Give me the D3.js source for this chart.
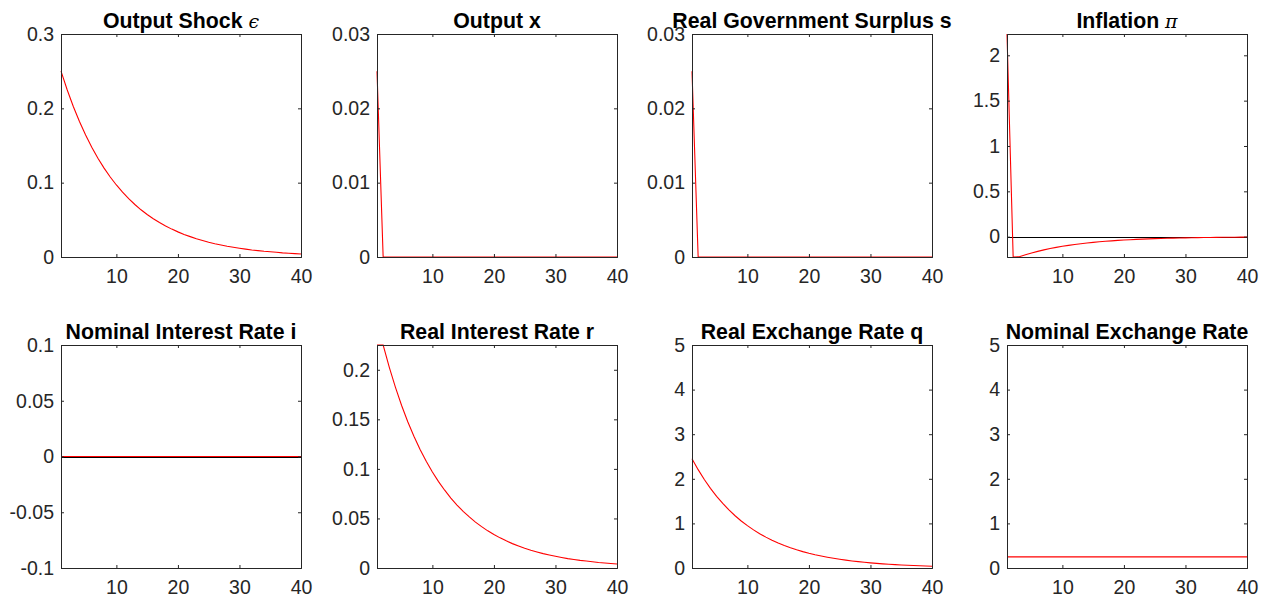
<!DOCTYPE html>
<html>
<head>
<meta charset="utf-8">
<script src="https://cdn.jsdelivr.net/npm/d3@7"></script>
<style>
body { margin: 0; background: #fff; }
text { font-family: "Liberation Sans", Arial, Helvetica, sans-serif; }
</style>
</head>
<body>
<div id="chart-area"></div>
<script>
// Impulse responses, 40 periods, 2 x 4 grid of small plots.

var periods = d3.range(1, 41);
var xTicks = [10, 20, 30, 40];

var shock = [0.25, 0.225, 0.2025, 0.1823, 0.164, 0.1476, 0.1329, 0.1196, 0.1076, 0.0969,
    0.0872, 0.0785, 0.0706, 0.0635, 0.0572, 0.0515, 0.0463, 0.0417, 0.0375, 0.0338,
    0.0304, 0.0274, 0.0246, 0.0222, 0.0199, 0.0179, 0.0162, 0.0145, 0.0131, 0.0118,
    0.0106, 0.0095, 0.0086, 0.0077, 0.007, 0.0063, 0.0056, 0.0051, 0.0046, 0.0041];

var outputX = [0.025, 0, 0, 0, 0, 0, 0, 0, 0, 0,
    0, 0, 0, 0, 0, 0, 0, 0, 0, 0,
    0, 0, 0, 0, 0, 0, 0, 0, 0, 0,
    0, 0, 0, 0, 0, 0, 0, 0, 0, 0];

var surplus = [0.025, 0, 0, 0, 0, 0, 0, 0, 0, 0,
    0, 0, 0, 0, 0, 0, 0, 0, 0, 0,
    0, 0, 0, 0, 0, 0, 0, 0, 0, 0,
    0, 0, 0, 0, 0, 0, 0, 0, 0, 0];

var inflation = [2.235, -0.224, -0.222, -0.1998, -0.1798, -0.1618, -0.1457, -0.1311, -0.118, -0.1062,
    -0.0956, -0.086, -0.0774, -0.0697, -0.0627, -0.0564, -0.0508, -0.0457, -0.0411, -0.037,
    -0.0333, -0.03, -0.027, -0.0243, -0.0219, -0.0197, -0.0177, -0.0159, -0.0143, -0.0129,
    -0.0116, -0.0105, -0.0094, -0.0085, -0.0076, -0.0069, -0.0062, -0.0056, -0.005, -0.0045];

var nominalRate = [0, 0, 0, 0, 0, 0, 0, 0, 0, 0,
    0, 0, 0, 0, 0, 0, 0, 0, 0, 0,
    0, 0, 0, 0, 0, 0, 0, 0, 0, 0,
    0, 0, 0, 0, 0, 0, 0, 0, 0, 0];

var realRate = [0.225, 0.225, 0.2025, 0.1823, 0.164, 0.1476, 0.1329, 0.1196, 0.1076, 0.0969,
    0.0872, 0.0785, 0.0706, 0.0635, 0.0572, 0.0515, 0.0463, 0.0417, 0.0375, 0.0338,
    0.0304, 0.0274, 0.0246, 0.0222, 0.0199, 0.0179, 0.0162, 0.0145, 0.0131, 0.0118,
    0.0106, 0.0095, 0.0086, 0.0077, 0.007, 0.0063, 0.0056, 0.0051, 0.0046, 0.0041];

var realFx = [2.45, 2.205, 1.9845, 1.786, 1.6074, 1.4467, 1.302, 1.1718, 1.0546, 0.9492,
    0.8543, 0.7688, 0.692, 0.6228, 0.5605, 0.5044, 0.454, 0.4086, 0.3677, 0.331,
    0.2979, 0.2681, 0.2413, 0.2171, 0.1954, 0.1759, 0.1583, 0.1425, 0.1282, 0.1154,
    0.1039, 0.0935, 0.0841, 0.0757, 0.0681, 0.0613, 0.0552, 0.0497, 0.0447, 0.0402];

var nominalFx = [0.25, 0.25, 0.25, 0.25, 0.25, 0.25, 0.25, 0.25, 0.25, 0.25,
    0.25, 0.25, 0.25, 0.25, 0.25, 0.25, 0.25, 0.25, 0.25, 0.25,
    0.25, 0.25, 0.25, 0.25, 0.25, 0.25, 0.25, 0.25, 0.25, 0.25,
    0.25, 0.25, 0.25, 0.25, 0.25, 0.25, 0.25, 0.25, 0.25, 0.25];

var titles = ["Output Shock ", "Output x", "Real Government Surplus s", "Inflation ",
    "Nominal Interest Rate i", "Real Interest Rate r", "Real Exchange Rate q", "Nominal Exchange Rate"];
var greek = ["\u03F5", "", "", "\u03C0", "", "", "", ""];

var yDomains = [[0, 0.3], [0, 0.03], [0, 0.03], [-0.224, 2.235],
    [-0.1, 0.1], [0, 0.225], [0, 5], [0, 5]];
var yTicks = [[0, 0.1, 0.2, 0.3], [0, 0.01, 0.02, 0.03], [0, 0.01, 0.02, 0.03], [0, 0.5, 1, 1.5, 2],
    [-0.1, -0.05, 0, 0.05, 0.1], [0, 0.05, 0.1, 0.15, 0.2], [0, 1, 2, 3, 4, 5], [0, 1, 2, 3, 4, 5]];

var series = [shock, outputX, surplus, inflation, nominalRate, realRate, realFx, nominalFx];

// layout of the axes boxes
var colLeft = [61, 377, 692, 1007],
    rowTop = [34, 345];
var width = 240, height = 223;
var axisColor = "#262626";

var svg = d3.select("#chart-area")
    .append("svg")
        .attr("width", 1262)
        .attr("height", 597);

var fmt = function (d) { return String(+d.toFixed(4)); };

series.forEach(function (values, i) {

    var g = svg.append("g")
        .attr("transform", "translate(" + colLeft[i % 4] + ", " + rowTop[Math.floor(i / 4)] + ")");

    var x = d3.scaleLinear().domain([1, 40]).range([0, width]);
    var y = d3.scaleLinear().domain(yDomains[i]).range([height, 0]);

    // clip a little outside the box so lines on the edges stay visible
    g.append("clipPath")
        .attr("id", "clip" + i)
      .append("rect")
        .attr("x", -1.5)
        .attr("y", -1.5)
        .attr("width", width + 3)
        .attr("height", height + 3);

    var plot = g.append("g").attr("clip-path", "url(#clip" + i + ")");

    // zero reference line
    var y0 = Math.round(y(0)) + 0.5;
    plot.append("line")
        .attr("x1", 0).attr("x2", width)
        .attr("y1", y0).attr("y2", y0)
        .attr("stroke", "#000")
        .attr("stroke-width", 1);

    var line = d3.line()
        .x(function (d, j) { return x(periods[j]); })
        .y(function (d) { return y(d); });

    plot.append("path")
        .datum(values)
        .attr("d", line)
        .attr("fill", "none")
        .attr("stroke", "#ff0000")
        .attr("stroke-width", 1.1);

    // Axes (ticks pointing inwards on all four sides)
    var bottom = g.append("g")
        .attr("transform", "translate(0," + height + ")")
        .call(d3.axisBottom(x).tickValues(xTicks).tickSize(-3).tickPadding(12).tickFormat(d3.format("d")));
    var top = g.append("g")
        .call(d3.axisTop(x).tickValues(xTicks).tickSize(-3).tickFormat(""));
    var left = g.append("g")
        .call(d3.axisLeft(y).tickValues(yTicks[i]).tickSize(-3).tickPadding(7).tickFormat(fmt));
    var right = g.append("g")
        .attr("transform", "translate(" + width + ",0)")
        .call(d3.axisRight(y).tickValues(yTicks[i]).tickSize(-3).tickFormat(""));

    [bottom, top, left, right].forEach(function (ax) {
        ax.selectAll("path, line").attr("stroke", axisColor);
        ax.selectAll("text")
            .attr("fill", axisColor)
            .attr("font-size", "19.5px")
            .attr("font-family", "'Liberation Sans', Arial, sans-serif");
    });

    // Title
    var t = g.append("text")
        .attr("x", width / 2)
        .attr("y", -6)
        .attr("text-anchor", "middle")
        .attr("font-size", "21.3px")
        .attr("font-weight", "bold")
        .attr("fill", "#000")
        .text(titles[i]);
    if (greek[i]) {
        t.append("tspan")
            .attr("font-family", "'DejaVu Serif', 'Liberation Serif', serif")
            .attr("font-style", "italic")
            .attr("font-weight", "normal")
            .attr("font-size", "19px")
            .text(greek[i]);
    }
});
</script>
</body>
</html>
